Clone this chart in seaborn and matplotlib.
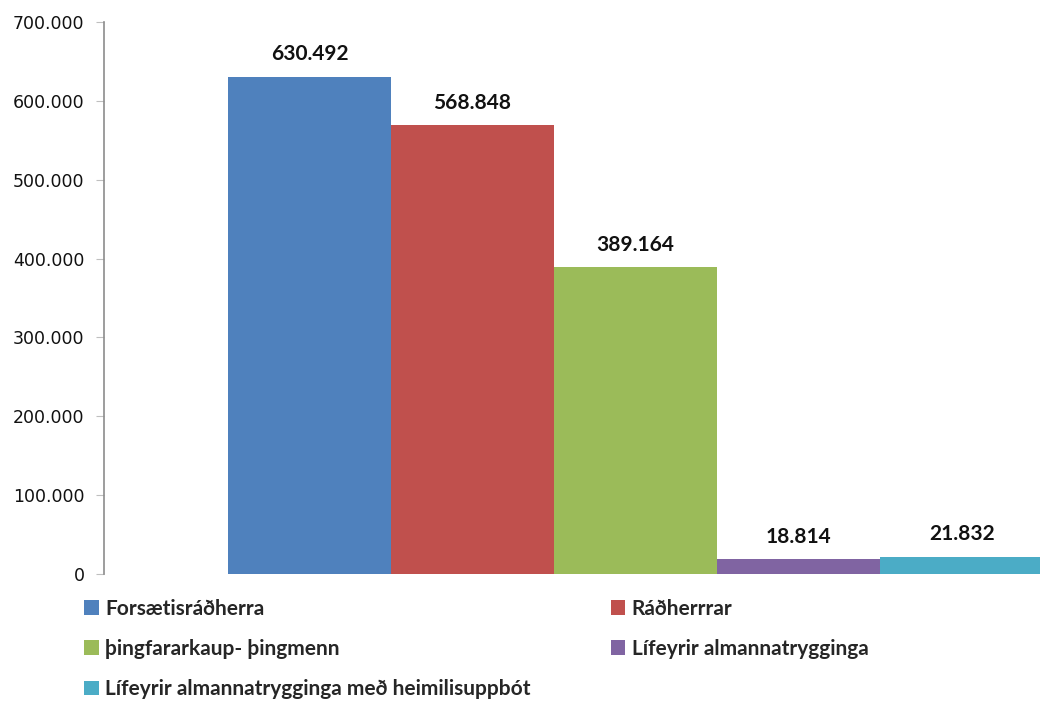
import matplotlib
matplotlib.use("Agg")
import matplotlib.pyplot as plt
import seaborn as sns
import pandas as pd
from matplotlib.patches import Patch
from matplotlib.ticker import FuncFormatter, MultipleLocator

categories = ["Forsætisráðherra", "Ráðherrrar", "Þingfararkaup- þingmenn",
              "Lífeyrir almannatrygginga", "Lífeyrir almannatrygginga með heimilisuppbót"]
legend_labels = ["Forsætisráðherra", "Ráðherrrar", "þingfararkaup- þingmenn",
                 "Lífeyrir almannatrygginga", "Lífeyrir almannatrygginga með heimilisuppbót"]
values = [630492, 568848, 389164, 18814, 21832]
colors = ["#4F81BD", "#C0504D", "#9BBB59", "#8064A2", "#4BACC6"]

def fmt(v):
    return f"{int(v):,}".replace(",", ".")

sns.set_style("white")
plt.rcParams["font.family"] = ["DejaVu Sans"]

fig = plt.figure(figsize=(10.4, 7.02), dpi=100)
ax = fig.add_axes([0.1, 0.1823, 0.9, 0.7863])

df = pd.DataFrame({"cat": categories, "val": values})
sns.barplot(data=df, x="cat", y="val", hue="cat", palette=colors, width=1.0,
            legend=False, ax=ax, order=categories, hue_order=categories,
            saturation=1, linewidth=0)

ax.set_xlim(-1.26, 4.48)
ax.set_ylim(0, 700000)
ax.yaxis.set_major_locator(MultipleLocator(100000))
ax.yaxis.set_major_formatter(FuncFormatter(lambda v, p: fmt(v)))
ax.set_xticks([])
ax.set_xlabel("")
ax.set_ylabel("")
for s in ["top", "right", "bottom"]:
    ax.spines[s].set_visible(False)
ax.spines["left"].set_color("#8c8c8c")
ax.spines["left"].set_linewidth(1.2)
ax.tick_params(axis="y", which="major", left=True, length=6, color="#bfbfbf",
               labelsize=12.5, labelcolor="#111111", pad=8)

for i, v in enumerate(values):
    ax.annotate(fmt(v), (i, v), xytext=(0, 9), textcoords="offset points",
                ha="center", va="bottom", fontsize=15, fontweight="bold",
                family=["Lato", "DejaVu Sans"], color="#111111")

handles = [Patch(facecolor=c, edgecolor="none") for c in colors]
order = [0, 2, 4, 1, 3]
leg = fig.legend([handles[i] for i in order], [legend_labels[i] for i in order],
                 ncol=2, loc="upper left", bbox_to_anchor=(0.063, 0.174),
                 frameon=False, handlelength=0.7, handleheight=0.7,
                 handletextpad=0.3, columnspacing=3.85, labelspacing=0.98,
                 prop={"family": ["Lato", "DejaVu Sans"], "weight": "bold", "size": 15})

fig.savefig("out.png", dpi=100)
